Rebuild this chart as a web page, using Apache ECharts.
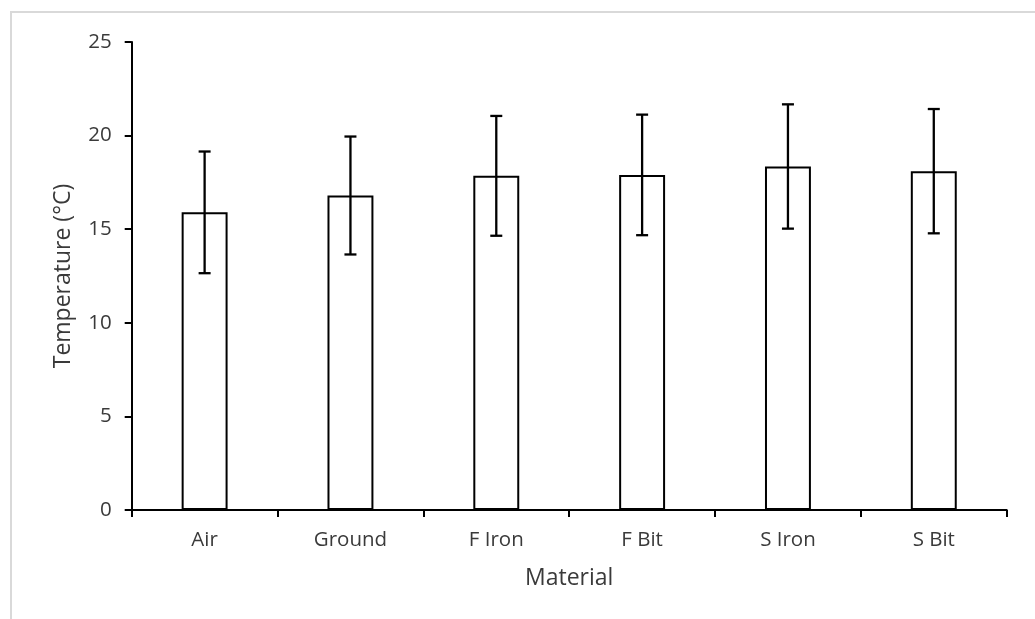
<!DOCTYPE html>
<html>
<head>
<meta charset="utf-8">
<script src="https://cdn.jsdelivr.net/npm/echarts@6/dist/echarts.min.js"></script>
<style>
html,body{margin:0;padding:0;background:#fff;}
#c{width:1035px;height:619px;}
</style>
</head>
<body>
<div id="c"></div>
<script>
var categories = ['Air', 'Ground', 'F Iron', 'F Bit', 'S Iron', 'S Bit'];
var means = [15.9, 16.8, 17.85, 17.9, 18.35, 18.1];
var errors = [3.25, 3.15, 3.2, 3.22, 3.32, 3.32];
var yTicks = [0, 5, 10, 15, 20, 25];

var errData = categories.map(function (c, i) {
  return [i, means[i] - errors[i], means[i] + errors[i]];
});

var textColor = '#3a3a3a';
var font = 'Open Sans';

var chart = echarts.init(document.getElementById('c'), null, {renderer: 'canvas'});
chart.setOption({
  animation: false,
  backgroundColor: '#fff',
  graphic: [{
    type: 'polyline',
    shape: {points: [[11, 619], [11, 12], [1035, 12]]},
    style: {stroke: '#d9d9d9', lineWidth: 2, fill: null},
    silent: true
  }],
  grid: {left: 131.7, right: 28.3, top: 42, bottom: 109},
  xAxis: {
    type: 'category',
    data: categories,
    name: 'Material',
    nameLocation: 'middle',
    nameGap: 57,
    nameTextStyle: {color: textColor, fontFamily: font, fontSize: 23},
    axisLine: {lineStyle: {color: '#000', width: 2}},
    axisTick: {show: true, length: 7, lineStyle: {color: '#000', width: 2}},
    axisLabel: {color: textColor, fontFamily: font, fontSize: 20.5, margin: 20}
  },
  yAxis: {
    type: 'value',
    min: yTicks[0],
    max: yTicks[yTicks.length - 1],
    interval: 5,
    name: 'Temperature (°C)',
    nameLocation: 'middle',
    nameGap: 57,
    nameTextStyle: {color: textColor, fontFamily: font, fontSize: 23},
    axisLine: {show: true, lineStyle: {color: '#000', width: 2}},
    axisTick: {show: true, length: 7, lineStyle: {color: '#000', width: 2}},
    axisLabel: {color: textColor, fontFamily: font, fontSize: 20.5, margin: 20},
    splitLine: {show: false}
  },
  series: [{
    type: 'bar',
    data: means,
    barWidth: '31.5%',
    itemStyle: {color: '#fff', borderColor: '#000', borderWidth: 2},
    z: 2
  }, {
    type: 'custom',
    data: errData,
    z: 3,
    renderItem: function (params, api) {
      var x = api.value(0);
      var lo = api.coord([x, api.value(1)]);
      var hi = api.coord([x, api.value(2)]);
      var hw = 6;
      var st = {stroke: '#000', lineWidth: 2.3, fill: null};
      return {
        type: 'group',
        children: [
          {type: 'line', shape: {x1: hi[0], y1: hi[1], x2: lo[0], y2: lo[1]}, style: st},
          {type: 'line', shape: {x1: hi[0] - hw, y1: hi[1], x2: hi[0] + hw, y2: hi[1]}, style: st},
          {type: 'line', shape: {x1: lo[0] - hw, y1: lo[1], x2: lo[0] + hw, y2: lo[1]}, style: st}
        ]
      };
    }
  }]
});
</script>
</body>
</html>
